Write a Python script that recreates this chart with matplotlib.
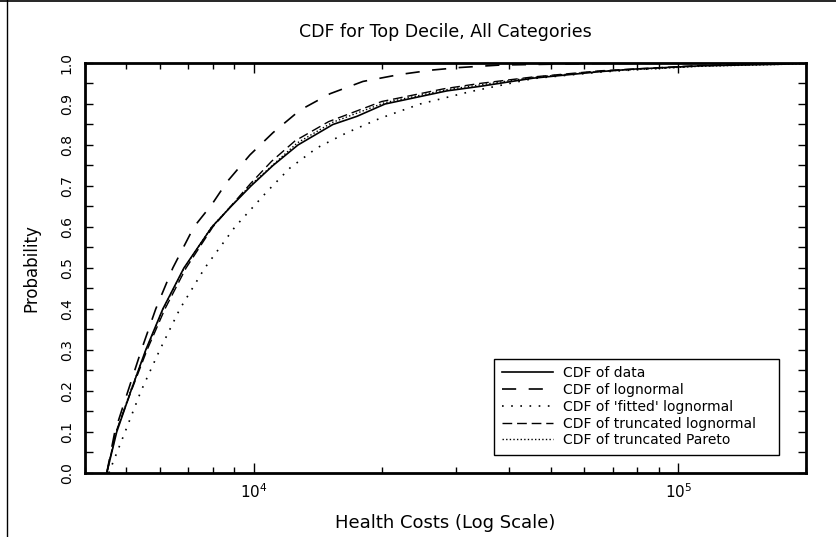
import numpy as np
import matplotlib
matplotlib.use('Agg')
import matplotlib.pyplot as plt
from matplotlib.lines import Line2D
from matplotlib.ticker import LogLocator, NullFormatter, MultipleLocator

# values (health cost, cumulative probability)
x_data = [4500, 4750, 5130, 5560, 6100, 6840, 7960, 8830, 9840, 11090, 12700, 15350,
          17500, 20370, 28500, 34100, 45500, 65500, 78300, 112700, 174100, 200000]
p_data = [0.0, 0.1, 0.2, 0.3, 0.4, 0.5, 0.6, 0.65, 0.7, 0.75, 0.8, 0.85,
          0.87, 0.9, 0.932, 0.943, 0.963, 0.979, 0.985, 0.993, 0.997, 1.0]

x_logn = [4500, 4700, 5050, 5430, 5870, 6440, 7220, 7960, 8640, 9790, 11090, 12840,
          15110, 18070, 22080, 26430, 30600, 38040, 65460, 200000]
p_logn = [0.0, 0.1, 0.2, 0.3, 0.4, 0.5, 0.6, 0.655, 0.71, 0.776, 0.83, 0.885,
          0.925, 0.955, 0.972, 0.983, 0.989, 0.995, 0.999, 1.0]

x_fit = [4550, 4970, 5420, 6000, 6690, 7660, 9020, 10730, 12160, 14080, 16560, 19820,
         24640, 32300, 45500, 65500, 112700, 200000]
p_fit = [0.0, 0.1, 0.2, 0.3, 0.4, 0.5, 0.6, 0.686, 0.744, 0.793, 0.83, 0.865,
         0.9, 0.93, 0.962, 0.978, 0.993, 1.0]

x_tlogn = [4500, 4730, 5140, 5600, 6170, 6920, 8000, 9800, 11000, 12500, 15000, 20000,
           28000, 34000, 45500, 65500, 112700, 200000]
p_tlogn = [0.0, 0.1, 0.2, 0.3, 0.4, 0.5, 0.6, 0.705, 0.76, 0.81, 0.857, 0.906,
           0.937, 0.95, 0.966, 0.981, 0.994, 1.0]

x_par = [4500, 4740, 5120, 5570, 6110, 6850, 7950, 9820, 12650, 15300, 20300, 28500,
         45500, 65500, 112700, 200000]
p_par = [0.0, 0.1, 0.2, 0.3, 0.4, 0.5, 0.6, 0.702, 0.805, 0.855, 0.903, 0.935,
         0.965, 0.98, 0.992, 0.998]

labels = ['CDF of data', 'CDF of lognormal', "CDF of 'fitted' lognormal",
          'CDF of truncated lognormal', 'CDF of truncated Pareto']

plt.rcParams['font.family'] = 'DejaVu Sans'
fig = plt.figure(figsize=(8.37, 5.37), dpi=100)
ax = fig.add_axes([0.1016, 0.1192, 0.8614, 0.7635])

ax.plot(x_data, p_data, color='black', lw=1.2, label=labels[0])
ax.plot(x_logn, p_logn, color='black', lw=1.2, dashes=(8.5, 7.5), label=labels[1])
ax.plot(x_fit, p_fit, color='black', lw=1.2, dashes=(1, 4.5), label=labels[2])
ax.plot(x_tlogn, p_tlogn, color='black', lw=1.0, dashes=(7, 3.5), label=labels[3])
ax.plot(x_par, p_par, color='black', lw=1.0, dashes=(1, 1.6), label=labels[4])

ax.set_xscale('log')
ax.set_xlim(4000, 200000)
ax.set_ylim(0, 1.0)

ax.xaxis.set_major_locator(LogLocator(base=10))
ax.xaxis.set_minor_locator(LogLocator(base=10, subs=np.arange(2, 10)))
ax.xaxis.set_minor_formatter(NullFormatter())
ax.yaxis.set_major_locator(MultipleLocator(0.1))
ax.yaxis.set_minor_locator(MultipleLocator(0.05))
ax.yaxis.set_major_formatter(plt.FuncFormatter(lambda v, pos: '%.1f' % v))

ax.tick_params(which='both', direction='in', top=True, right=True, width=1)
ax.tick_params(axis='x', which='major', length=7, pad=7, labelsize=11)
ax.tick_params(axis='x', which='minor', length=4)
ax.tick_params(axis='y', which='both', length=6, pad=8, labelsize=10)
for lab in ax.get_yticklabels():
    lab.set_rotation(90)
    lab.set_va('center')
for sp in ax.spines.values():
    sp.set_linewidth(2)

ax.set_title('CDF for Top Decile, All Categories', fontsize=12.5, pad=19)
ax.set_xlabel('Health Costs (Log Scale)', fontsize=13, labelpad=9)
ax.set_ylabel('Probability', fontsize=12, labelpad=14)

leg = ax.legend(loc='lower left', bbox_to_anchor=(0.5576, 0.027, 0.4146, 0.2366),
                mode='expand', fontsize=10, handlelength=3.7, handletextpad=0.7,
                labelspacing=0.2, borderpad=0.55, fancybox=False, framealpha=1)
leg.get_frame().set_edgecolor('black')
leg.get_frame().set_linewidth(1)

# outer border lines of the page
fig.add_artist(Line2D([0.0084, 0.0084], [0, 1], color='black', lw=1))
fig.add_artist(Line2D([0, 1], [0.998, 0.998], color='black', lw=1.2))

fig.savefig('out.png', dpi=100)
